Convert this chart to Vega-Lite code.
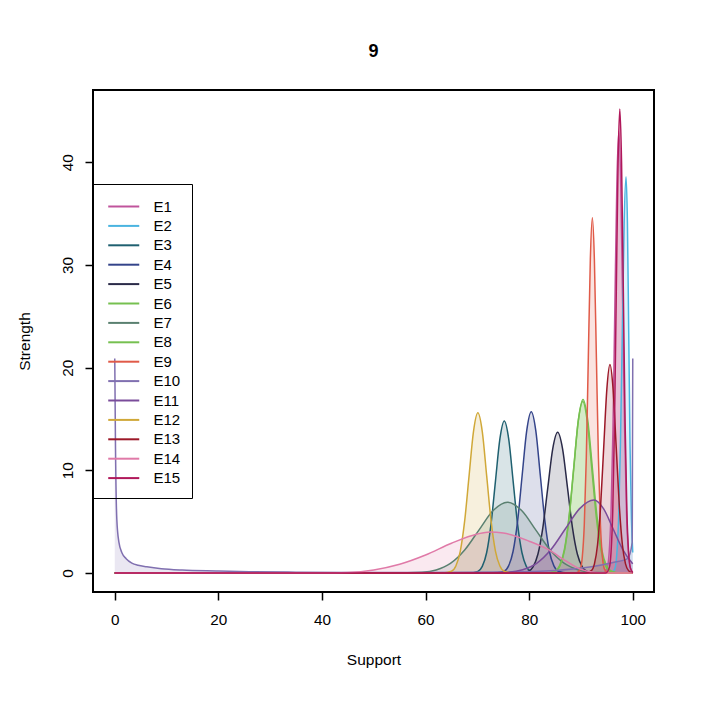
{
  "$schema": "https://vega.github.io/schema/vega-lite/v6.json",
  "autosize": {"type": "none"},
  "padding": {"left": 93, "top": 90, "right": 48, "bottom": 111},
  "width": 561,
  "height": 502,
  "background": "white",
  "title": {"text": "9", "fontSize": 18, "fontWeight": "bold", "font": "Liberation Sans", "color": "black", "offset": 29, "anchor": "middle"},
  "config": {
    "view": {"stroke": "black", "strokeWidth": 2},
    "axis": {"domain": false, "grid": false, "tickColor": "black", "tickSize": 8, "tickWidth": 1.5, "labelFont": "Liberation Sans", "labelFontSize": 15.3, "labelColor": "black", "titleFont": "Liberation Sans", "titleFontSize": 15.5, "titleFontWeight": "normal", "titleColor": "black"}
  },
  "data": {"values": [
    {"s":"E1","x":0,"y":0},{"s":"E1","x":94.3,"y":0},{"s":"E1","x":95.05,"y":0.48},{"s":"E1","x":95.43,"y":1.9},{"s":"E1","x":95.8,"y":5.8},{"s":"E1","x":96.18,"y":14.0},{"s":"E1","x":96.55,"y":26.1},{"s":"E1","x":96.93,"y":37.9},{"s":"E1","x":97.3,"y":43},{"s":"E1","x":97.68,"y":37.9},{"s":"E1","x":98.05,"y":26.1},{"s":"E1","x":98.43,"y":14.0},{"s":"E1","x":98.8,"y":5.8},{"s":"E1","x":99.18,"y":1.9},{"s":"E1","x":99.55,"y":0.48},{"s":"E1","x":100,"y":0.03},
    {"s":"E2","x":0,"y":0},{"s":"E2","x":95.8,"y":0},{"s":"E2","x":96.54,"y":0.43},{"s":"E2","x":96.9,"y":1.7},{"s":"E2","x":97.26,"y":5.2},{"s":"E2","x":97.62,"y":12.5},{"s":"E2","x":97.98,"y":23.4},{"s":"E2","x":98.34,"y":34.1},{"s":"E2","x":98.7,"y":38.6},{"s":"E2","x":98.97,"y":34.1},{"s":"E2","x":99.22,"y":23.4},{"s":"E2","x":99.47,"y":12.5},{"s":"E2","x":99.75,"y":5.2},{"s":"E2","x":100,"y":2.0},
    {"s":"E3","x":0,"y":0},{"s":"E3","x":68.4,"y":0},{"s":"E3","x":70.1,"y":0.16},{"s":"E3","x":70.95,"y":0.65},{"s":"E3","x":71.8,"y":2.0},{"s":"E3","x":72.65,"y":4.81},{"s":"E3","x":73.5,"y":8.98},{"s":"E3","x":74.35,"y":13.06},{"s":"E3","x":75.2,"y":14.8},{"s":"E3","x":76.05,"y":13.06},{"s":"E3","x":76.9,"y":8.98},{"s":"E3","x":77.75,"y":4.81},{"s":"E3","x":78.6,"y":2.0},{"s":"E3","x":79.45,"y":0.65},{"s":"E3","x":80.3,"y":0.16},{"s":"E3","x":82,"y":0},{"s":"E3","x":100,"y":0},
    {"s":"E4","x":0,"y":0},{"s":"E4","x":73.4,"y":0},{"s":"E4","x":75.15,"y":0.17},{"s":"E4","x":76.03,"y":0.69},{"s":"E4","x":76.9,"y":2.12},{"s":"E4","x":77.78,"y":5.1},{"s":"E4","x":78.65,"y":9.52},{"s":"E4","x":79.53,"y":13.86},{"s":"E4","x":80.4,"y":15.7},{"s":"E4","x":81.28,"y":13.86},{"s":"E4","x":82.15,"y":9.52},{"s":"E4","x":83.03,"y":5.1},{"s":"E4","x":83.9,"y":2.12},{"s":"E4","x":84.78,"y":0.69},{"s":"E4","x":85.65,"y":0.17},{"s":"E4","x":87.4,"y":0},{"s":"E4","x":100,"y":0},
    {"s":"E5","x":0,"y":0},{"s":"E5","x":77.9,"y":0},{"s":"E5","x":79.8,"y":0.15},{"s":"E5","x":80.75,"y":0.6},{"s":"E5","x":81.7,"y":1.85},{"s":"E5","x":82.65,"y":4.45},{"s":"E5","x":83.6,"y":8.31},{"s":"E5","x":84.55,"y":12.09},{"s":"E5","x":85.5,"y":13.7},{"s":"E5","x":86.45,"y":12.09},{"s":"E5","x":87.4,"y":8.31},{"s":"E5","x":88.35,"y":4.45},{"s":"E5","x":89.3,"y":1.85},{"s":"E5","x":90.25,"y":0.6},{"s":"E5","x":91.2,"y":0.15},{"s":"E5","x":93.1,"y":0},{"s":"E5","x":100,"y":0},
    {"s":"E6","x":0,"y":0},{"s":"E6","x":83.2,"y":0},{"s":"E6","x":85,"y":0.19},{"s":"E6","x":85.9,"y":0.74},{"s":"E6","x":86.8,"y":2.29},{"s":"E6","x":87.7,"y":5.49},{"s":"E6","x":88.6,"y":10.25},{"s":"E6","x":89.5,"y":14.91},{"s":"E6","x":90.4,"y":16.9},{"s":"E6","x":91.3,"y":14.91},{"s":"E6","x":92.2,"y":10.25},{"s":"E6","x":93.1,"y":5.49},{"s":"E6","x":94,"y":2.29},{"s":"E6","x":94.9,"y":0.74},{"s":"E6","x":95.8,"y":0.19},{"s":"E6","x":97.6,"y":0},{"s":"E6","x":100,"y":0},
    {"s":"E7","x":0,"y":0},{"s":"E7","x":53.8,"y":0},{"s":"E7","x":59.3,"y":0.08},{"s":"E7","x":62.05,"y":0.3},{"s":"E7","x":64.8,"y":0.93},{"s":"E7","x":67.55,"y":2.24},{"s":"E7","x":70.3,"y":4.18},{"s":"E7","x":73.05,"y":6.09},{"s":"E7","x":75.8,"y":6.9},{"s":"E7","x":78.55,"y":6.09},{"s":"E7","x":81.3,"y":4.18},{"s":"E7","x":84.05,"y":2.24},{"s":"E7","x":86.8,"y":0.93},{"s":"E7","x":89.55,"y":0.3},{"s":"E7","x":92.3,"y":0.08},{"s":"E7","x":97.8,"y":0},{"s":"E7","x":100,"y":0},
    {"s":"E8","x":0,"y":0},{"s":"E8","x":83.4,"y":0},{"s":"E8","x":85.1,"y":0.19},{"s":"E8","x":85.97,"y":0.73},{"s":"E8","x":86.85,"y":2.26},{"s":"E8","x":87.72,"y":5.42},{"s":"E8","x":88.6,"y":10.12},{"s":"E8","x":89.47,"y":14.74},{"s":"E8","x":90.35,"y":16.7},{"s":"E8","x":91.22,"y":14.74},{"s":"E8","x":92.1,"y":10.12},{"s":"E8","x":92.97,"y":5.42},{"s":"E8","x":93.85,"y":2.26},{"s":"E8","x":94.72,"y":0.73},{"s":"E8","x":95.6,"y":0.19},{"s":"E8","x":97.3,"y":0},{"s":"E8","x":100,"y":0},
    {"s":"E9","x":0,"y":0},{"s":"E9","x":89.08,"y":0},{"s":"E9","x":89.86,"y":0.38},{"s":"E9","x":90.25,"y":1.52},{"s":"E9","x":90.64,"y":4.68},{"s":"E9","x":91.03,"y":11.23},{"s":"E9","x":91.42,"y":20.98},{"s":"E9","x":91.81,"y":30.53},{"s":"E9","x":92.2,"y":34.6},{"s":"E9","x":92.59,"y":30.53},{"s":"E9","x":92.98,"y":20.98},{"s":"E9","x":93.37,"y":11.23},{"s":"E9","x":93.76,"y":4.68},{"s":"E9","x":94.15,"y":1.52},{"s":"E9","x":94.54,"y":0.38},{"s":"E9","x":95.32,"y":0},{"s":"E9","x":100,"y":0},
    {"s":"E10","x":0,"y":20.9},{"s":"E10","x":0.15,"y":12},{"s":"E10","x":0.4,"y":5.2},{"s":"E10","x":0.8,"y":3.0},{"s":"E10","x":1.4,"y":1.95},{"s":"E10","x":2.2,"y":1.4},{"s":"E10","x":3.3,"y":0.97},{"s":"E10","x":4.5,"y":0.75},{"s":"E10","x":6.2,"y":0.6},{"s":"E10","x":9,"y":0.42},{"s":"E10","x":13,"y":0.29},{"s":"E10","x":20,"y":0.2},{"s":"E10","x":26,"y":0.13},{"s":"E10","x":35,"y":0.08},{"s":"E10","x":45,"y":0.05},{"s":"E10","x":60,"y":0.05},{"s":"E10","x":75,"y":0.1},{"s":"E10","x":85,"y":0.25},{"s":"E10","x":92,"y":0.6},{"s":"E10","x":96,"y":1.0},{"s":"E10","x":99,"y":1.4},{"s":"E10","x":99.9,"y":3},{"s":"E10","x":100,"y":20.9},
    {"s":"E11","x":0,"y":0},{"s":"E11","x":70,"y":0},{"s":"E11","x":76,"y":0.08},{"s":"E11","x":78.75,"y":0.31},{"s":"E11","x":81.5,"y":0.96},{"s":"E11","x":84.25,"y":2.31},{"s":"E11","x":87,"y":4.31},{"s":"E11","x":89.75,"y":6.27},{"s":"E11","x":92.5,"y":7.1},{"s":"E11","x":94.35,"y":6.27},{"s":"E11","x":96.2,"y":4.31},{"s":"E11","x":98.05,"y":2.31},{"s":"E11","x":99.9,"y":0.96},{"s":"E11","x":100,"y":0.9},
    {"s":"E12","x":0,"y":0},{"s":"E12","x":63.3,"y":0},{"s":"E12","x":65,"y":0.17},{"s":"E12","x":65.85,"y":0.68},{"s":"E12","x":66.7,"y":2.11},{"s":"E12","x":67.55,"y":5.07},{"s":"E12","x":68.4,"y":9.46},{"s":"E12","x":69.25,"y":13.77},{"s":"E12","x":70.1,"y":15.6},{"s":"E12","x":70.95,"y":13.77},{"s":"E12","x":71.8,"y":9.46},{"s":"E12","x":72.65,"y":5.07},{"s":"E12","x":73.5,"y":2.11},{"s":"E12","x":74.35,"y":0.68},{"s":"E12","x":75.2,"y":0.17},{"s":"E12","x":76.9,"y":0},{"s":"E12","x":100,"y":0},
    {"s":"E13","x":0,"y":0},{"s":"E13","x":90.8,"y":0},{"s":"E13","x":92,"y":0.23},{"s":"E13","x":92.6,"y":0.89},{"s":"E13","x":93.2,"y":2.75},{"s":"E13","x":93.8,"y":6.59},{"s":"E13","x":94.4,"y":12.31},{"s":"E13","x":95,"y":17.91},{"s":"E13","x":95.6,"y":20.3},{"s":"E13","x":96.2,"y":17.91},{"s":"E13","x":96.8,"y":12.31},{"s":"E13","x":97.4,"y":6.59},{"s":"E13","x":98,"y":2.75},{"s":"E13","x":98.6,"y":0.89},{"s":"E13","x":99.2,"y":0.23},{"s":"E13","x":100,"y":0.02},
    {"s":"E14","x":0,"y":0},{"s":"E14","x":40,"y":0},{"s":"E14","x":45,"y":0.05},{"s":"E14","x":50,"y":0.3},{"s":"E14","x":55,"y":0.85},{"s":"E14","x":60,"y":1.75},{"s":"E14","x":65,"y":2.9},{"s":"E14","x":70,"y":3.8},{"s":"E14","x":72.4,"y":4.0},{"s":"E14","x":75,"y":3.9},{"s":"E14","x":80,"y":3.1},{"s":"E14","x":84,"y":2.2},{"s":"E14","x":87,"y":1.2},{"s":"E14","x":90,"y":0.35},{"s":"E14","x":93,"y":0.05},{"s":"E14","x":96,"y":0},{"s":"E14","x":100,"y":0},
    {"s":"E15","x":0,"y":0},{"s":"E15","x":94.78,"y":0},{"s":"E15","x":95.46,"y":0.5},{"s":"E15","x":95.8,"y":1.98},{"s":"E15","x":96.14,"y":6.12},{"s":"E15","x":96.48,"y":14.68},{"s":"E15","x":96.82,"y":27.41},{"s":"E15","x":97.16,"y":39.89},{"s":"E15","x":97.5,"y":45.2},{"s":"E15","x":97.84,"y":39.89},{"s":"E15","x":98.18,"y":27.41},{"s":"E15","x":98.52,"y":14.68},{"s":"E15","x":98.86,"y":6.12},{"s":"E15","x":99.2,"y":1.98},{"s":"E15","x":99.54,"y":0.5},{"s":"E15","x":100,"y":0.05}
  ]},
  "encoding": {
    "x": {"field": "x", "type": "quantitative", "title": "Support", "scale": {"domain": [-4.2, 104.1], "nice": false, "zero": false},
      "axis": {"values": [0, 20, 40, 60, 80, 100], "labelPadding": 12, "titleY": 72, "titleBaseline": "alphabetic"}},
    "y": {"field": "y", "type": "quantitative", "title": "Strength", "stack": null, "scale": {"domain": [-1.85, 47.05], "nice": false, "zero": false},
      "axis": {"values": [0, 10, 20, 30, 40], "labelAngle": 270, "labelAlign": "center", "labelBaseline": "alphabetic", "labelPadding": 13, "titleX": -64, "titleY": 251, "titleBaseline": "alphabetic", "titleAngle": 270, "titleAlign": "center"}}
  },
  "layer": [
    {"mark": {"type": "area", "interpolate": "monotone", "fillOpacity": 0.17, "clip": true},
     "encoding": {"fill": {"field": "s", "type": "nominal", "legend": null,
       "scale": {"domain": ["E15","E14","E13","E12","E11","E10","E9","E8","E7","E6","E5","E4","E3","E2","E1"],
        "range": ["#b0185a","#e07aa8","#9c1828","#d0a838","#7a4c9a","#8070b0","#e05a48","#76c050","#5a8070","#76c050","#2a2a48","#34448a","#1f6070","#4ab4e0","#c0549c"]}}}},
    {"mark": {"type": "line", "interpolate": "monotone", "strokeWidth": 1.5, "clip": true},
     "encoding": {"stroke": {"field": "s", "type": "nominal",
       "scale": {"domain": ["E1","E2","E3","E4","E5","E6","E7","E8","E9","E10","E11","E12","E13","E14","E15"],
        "range": ["#c0549c","#4ab4e0","#1f6070","#34448a","#2a2a48","#76c050","#5a8070","#76c050","#e05a48","#8070b0","#7a4c9a","#d0a838","#9c1828","#e07aa8","#b0185a"]},
       "legend": {"orient": "none", "legendX": 0, "legendY": 94, "title": null, "strokeColor": "black", "padding": 11.5,
         "labelFont": "Liberation Sans", "labelFontSize": 15, "labelColor": "black", "symbolType": "M-0.75,0H2.45", "symbolSize": 376, "symbolStrokeWidth": 2, "labelOffset": 27, "rowPadding": 0.4}}}}
  ]
}
